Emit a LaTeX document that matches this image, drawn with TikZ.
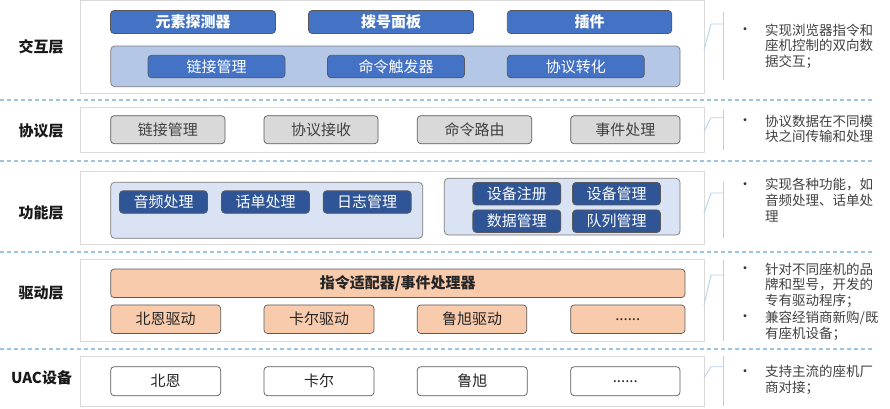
\documentclass[tikz,border=0pt]{standalone}
\usepackage{fontspec}
\setmainfont{Noto Sans CJK SC}
\definecolor{sepblue}{HTML}{9DC3E6}
\definecolor{callblue}{HTML}{B4D2EE}
\definecolor{layerline}{HTML}{D9D9D9}
\definecolor{bdr}{HTML}{595959}
\definecolor{blueA}{HTML}{4472C4}
\definecolor{blueC}{HTML}{B4C7E7}
\definecolor{blueD}{HTML}{2F5597}
\definecolor{blueE}{HTML}{DAE3F3}
\definecolor{grayF}{HTML}{D9D9D9}
\definecolor{peach}{HTML}{F8CBAD}
\definecolor{txtgray}{HTML}{404040}
\begin{document}
\begin{tikzpicture}[x=1pt,y=-1pt,
  layer/.style={draw=layerline, fill=white, line width=0.9pt},
  sep/.style={draw=sepblue, line width=1.2pt, dash pattern=on 4pt off 3pt},
  call/.style={draw=callblue, line width=0.9pt},
  bx/.style={draw=bdr, line width=0.7pt, rounded corners=3.5pt, inner sep=0pt, font=\fontsize{15}{15}\selectfont},
  blueb/.style={bx, fill=blueA, text=white, font=\fontsize{15}{15}\selectfont\bfseries, minimum height=23pt},
  bluen/.style={bx, fill=blueA, text=white, minimum height=22.5pt},
  cont/.style={draw=bdr!80, line width=0.7pt, rounded corners=4pt},
  grayb/.style={bx, fill=grayF, text=txtgray, minimum height=28pt},
  darkb/.style={bx, fill=blueD, text=white, minimum height=22.5pt, minimum width=88pt},
  peachb/.style={bx, fill=peach, text=black!85, minimum height=28.5pt},
  whiteb/.style={bx, fill=white, text=black!85, minimum height=29pt},
  lab/.style={font=\fontsize{15}{15}\selectfont\bfseries, text=black!90, inner sep=0pt},
  rtext/.style={font=\fontsize{13.5}{15.6}\selectfont, text=txtgray, align=left, inner sep=0pt, anchor=north west},
  bul/.style={font=\fontsize{14}{14}\selectfont, text=black!80, inner sep=0pt}
]
\useasboundingbox (0,0) rectangle (890,408);

% separators
\foreach \yy in {100,161,252,349} \draw[sep] (0,\yy) -- (873,\yy);

% layer boxes
\draw[layer] (80,0.5) rectangle (704,93);
\draw[layer] (80,107.3) rectangle (704,152.7);
\draw[layer] (80,171) rectangle (704,244);
\draw[layer] (80,259.3) rectangle (704,341);
\draw[layer] (80,356) rectangle (704,406);

% layer labels
\node[lab] (l1) at (41,47) {交互层};
\node[lab] (l2) at (41,131) {协议层};
\node[lab] (l3) at (41,213) {功能层};
\node[lab] (l4) at (41,293) {驱动层};
\node[lab] (l5) at (41.5,378) {UAC设备};

% layer 1
\node[blueb, minimum width=165pt] (a1) at (193,22) {元素探测器};
\node[blueb, minimum width=165pt] (a2) at (391,22) {拨号面板};
\node[blueb, minimum width=164.5pt] (a3) at (589.5,22) {插件};
\draw[cont, fill=blueC] (110.7,46) rectangle (680,86.7);
\node[bluen, minimum width=137pt] (b1) at (216.5,66.5) {链接管理};
\node[bluen, minimum width=137pt] (b2) at (396,66.5) {命令触发器};
\node[bluen, minimum width=137pt] (b3) at (575.8,66.5) {协议转化};

% layer 2
\node[grayb, minimum width=114.3pt] (c1) at (167.8,129.7) {链接管理};
\node[grayb, minimum width=114pt] (c2) at (321,129.7) {协议接收};
\node[grayb, minimum width=114.4pt] (c3) at (474.5,129.7) {命令路由};
\node[grayb, minimum width=109.3pt] (c4) at (625.3,129.7) {事件处理};

% layer 3
\draw[cont, fill=blueE] (110.7,182.3) rectangle (422.7,238.3);
\node[darkb] (d1) at (163.5,202) {音频处理};
\node[darkb] (d2) at (265.5,202) {话单处理};
\node[darkb] (d3) at (367.2,202) {日志管理};
\draw[cont, fill=blueE] (444.3,178.3) rectangle (680,235);
\node[darkb] (e1) at (516.8,193.7) {设备注册};
\node[darkb] (e2) at (616.5,193.7) {设备管理};
\node[darkb] (e3) at (516.8,221.2) {数据管理};
\node[darkb] (e4) at (616.5,221.2) {队列管理};

% layer 4
\node[peachb, minimum width=574.3pt, font=\fontsize{15}{15}\selectfont\bfseries] (f0) at (397.8,283.3) {指令适配器/事件处理器};
\node[peachb, minimum width=110pt] (f1) at (165.7,319.2) {北恩驱动};
\node[peachb, minimum width=110pt] (f2) at (319,319.2) {卡尔驱动};
\node[peachb, minimum width=109.4pt] (f3) at (472,319.2) {鲁旭驱动};
\node[peachb, minimum width=114.3pt] (f4) at (627.8,319.2) {......};

% layer 5
\node[whiteb, minimum width=110pt] (g1) at (165.7,381.2) {北恩};
\node[whiteb, minimum width=110pt] (g2) at (319,381.2) {卡尔};
\node[whiteb, minimum width=110pt] (g3) at (472.3,381.2) {鲁旭};
\node[whiteb, minimum width=109.3pt] (g4) at (625.3,381.2) {......};

% callouts
\draw[call] (704,50) -- (711,24) -- (723,24);
\draw[call] (723,12) -- (723,80);
\draw[call] (704,131.7) -- (711,117.7) -- (723,117.7);
\draw[call] (723,110) -- (723,150);
\draw[call] (704,213) -- (711,193) -- (723,193);
\draw[call] (723,182) -- (723,238);
\draw[call] (704,305) -- (711,275) -- (723,275);
\draw[call] (723,260) -- (723,340.7);
\draw[call] (704,378) -- (711,366.7) -- (723,366.7);
\draw[call] (723,356) -- (723,406);

% right texts
\node[bul] (p1) at (745,31) {•};
\node[rtext] (t1) at (765,23.5) {实现浏览器指令和\\座机控制的双向数\\据交互；};
\node[bul] (p2) at (745,122.3) {•};
\node[rtext] (t2) at (765,114.8) {协议数据在不同模\\块之间传输和处理};
\node[bul] (p3) at (745,185.7) {•};
\node[rtext] (t3) at (765,178.2) {实现各种功能，如\\音频处理、话单处\\理};
\node[bul] (p4) at (745,270) {•};
\node[rtext] (t4) at (765,262.5) {针对不同座机的品\\牌和型号，开发的\\专有驱动程序；};
\node[bul] (p5) at (745,318.3) {•};
\node[rtext] (t5) at (765,310.8) {兼容经销商新购/既\\有座机设备；};
\node[bul] (p6) at (745,372.7) {•};
\node[rtext] (t6) at (765,365.2) {支持主流的座机厂\\商对接；};
\end{tikzpicture}
\end{document}
